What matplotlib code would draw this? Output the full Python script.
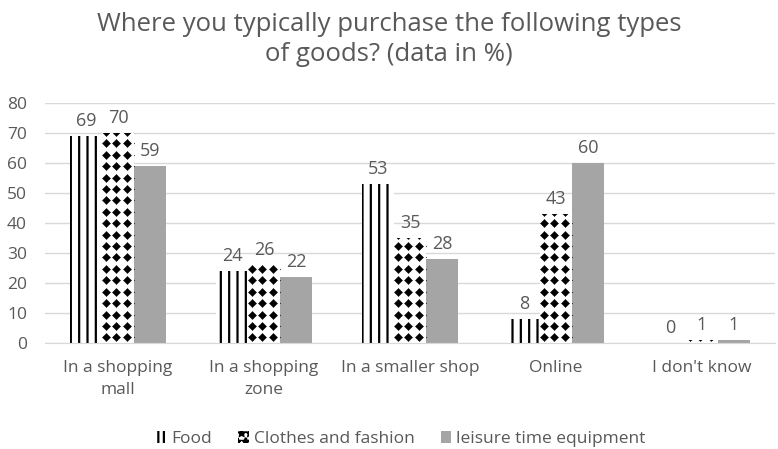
import numpy as np
import matplotlib
matplotlib.use("Agg")
import matplotlib.pyplot as plt
from matplotlib.patches import Patch

categories = ["In a shopping\nmall", "In a shopping\nzone", "In a smaller shop", "Online", "I don't know"]
series_names = ["Food", "Clothes and fashion", "leisure time equipment"]
food = [69, 24, 53, 8, 0]
clothes = [70, 26, 35, 43, 1]
leisure = [59, 22, 28, 60, 1]
y_ticks = [0, 10, 20, 30, 40, 50, 60, 70, 80]

plt.rcParams['font.family'] = ['Open Sans', 'DejaVu Sans']
grey_txt = '#595959'

fig = plt.figure(figsize=(7.78, 4.49), dpi=100)
ax = fig.add_axes([0.058, 0.236, 0.938, 0.535])

x = np.arange(len(categories))
w = 0.22
styles = [
    dict(facecolor='white', edgecolor='black', hatch='||', linewidth=0),
    dict(facecolor='white', edgecolor='white', linewidth=0),
    dict(facecolor='#a5a5a5', edgecolor='#a5a5a5', linewidth=0),
]
data = [food, clothes, leisure]
bars = []
plt.rcParams['hatch.linewidth'] = 1.6
for i, (vals, st) in enumerate(zip(data, styles)):
    b = ax.bar(x + (i - 1) * w, vals, w, label=series_names[i], **st)
    bars.append(b)
    for xi, v in zip(x + (i - 1) * w, vals):
        ax.text(xi, v + 2, str(v), ha='center', va='bottom', fontsize=13, color=grey_txt)

# diamond texture for the clothes bars, clipped to each bar
dx = w / 3
dy = 3.8
for rect in bars[1]:
    h = rect.get_height()
    if h <= 0:
        continue
    xs = rect.get_x() + dx * (np.arange(4) + 0.35)
    ys = np.arange(dy / 2, h + dy, dy)
    X, Y = np.meshgrid(xs, ys)
    sc = ax.scatter(X.ravel(), Y.ravel(), marker='D', s=17, c='black', linewidths=0.3,
                    edgecolors='black', zorder=3)
    sc.set_clip_path(rect)

ax.set_ylim(0, 80)
ax.set_xlim(-0.5, len(categories) - 0.5)
ax.set_yticks(y_ticks)
ax.set_xticks(x)
ax.set_xticklabels(categories, linespacing=1.55)
ax.grid(axis='y', color='#d9d9d9', linewidth=1)
ax.set_axisbelow(True)
for s in ['top', 'right', 'left']:
    ax.spines[s].set_visible(False)
ax.spines['bottom'].set_color('#d9d9d9')
ax.tick_params(axis='both', length=0, labelsize=12.5, labelcolor=grey_txt)
ax.tick_params(axis='x', pad=12)
ax.tick_params(axis='y', pad=13)

fig.suptitle("Where you typically purchase the following types\nof goods? (data in %)",
             fontsize=18.5, color=grey_txt, y=0.974, linespacing=1.3)

handles = [
    Patch(facecolor='white', edgecolor='black', hatch='|||', linewidth=0),
    Patch(facecolor='white', edgecolor='black', hatch='**', linewidth=0),
    Patch(facecolor='#a5a5a5', edgecolor='#a5a5a5', linewidth=0),
]
fig.legend(handles=handles, labels=series_names, loc='center', ncol=3, frameon=False,
           fontsize=12.5, labelcolor=grey_txt, bbox_to_anchor=(0.515, 0.022),
           handlelength=0.6, handleheight=0.7, columnspacing=1.5, handletextpad=0.3)

fig.savefig("out.png", dpi=100)
